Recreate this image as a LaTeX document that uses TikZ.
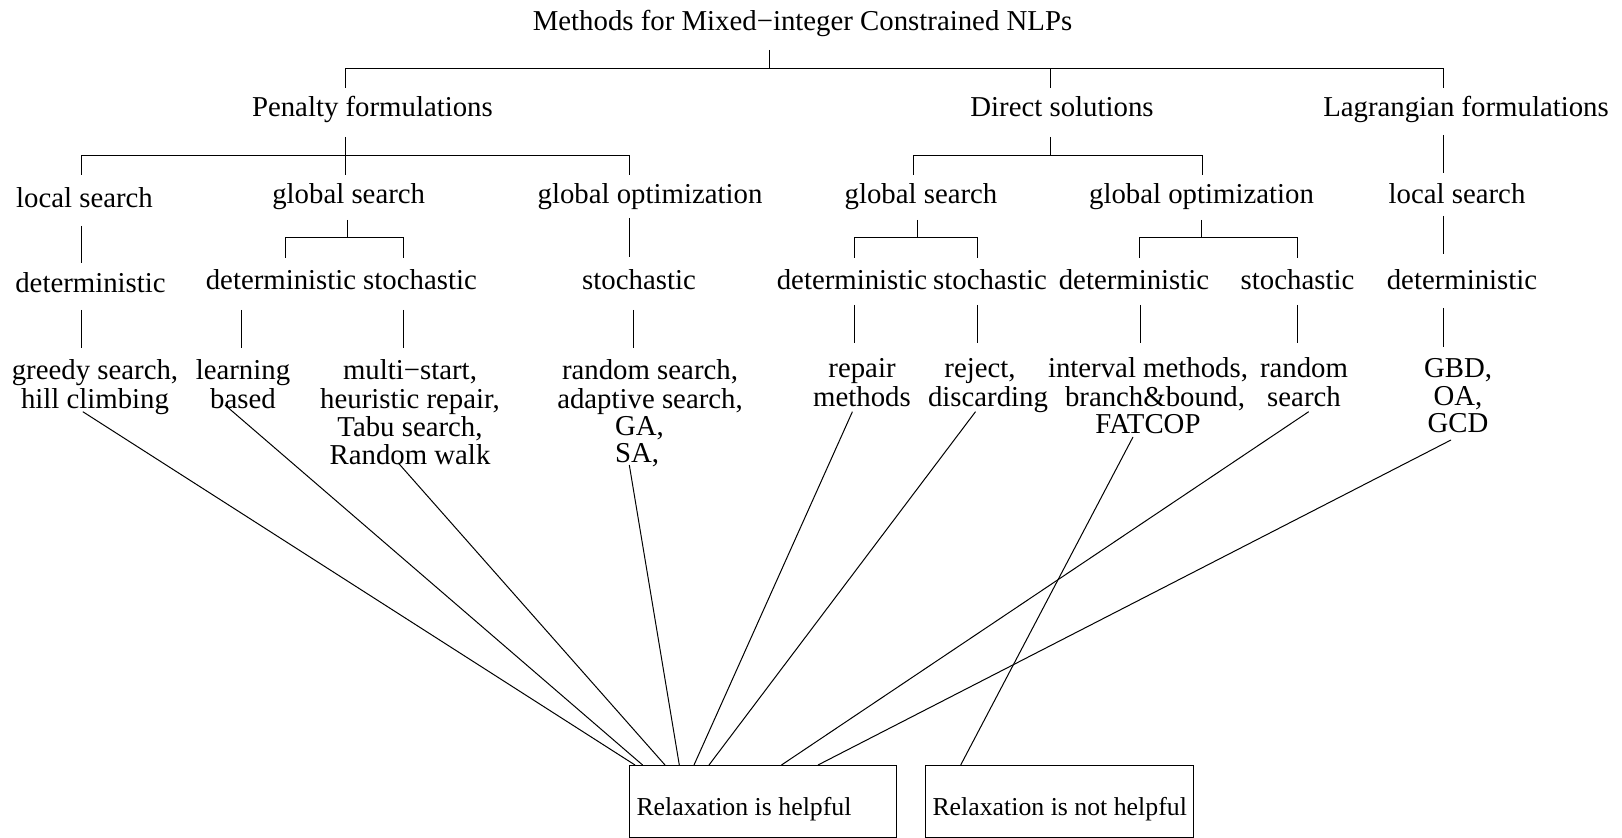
\documentclass[tikz,border=0pt]{standalone}
\usepackage{fontspec}
\setmainfont{Liberation Serif}
\usetikzlibrary{calc}

% several centred lines whose reference point is the first baseline
\newcommand\leafstack[1]{\begin{tabular}[t]{@{}c@{}}#1\end{tabular}}

\begin{document}
\begin{tikzpicture}[
  x=0.5pt, y=-0.5pt,
  lbl/.style={font=\fontsize{14.4}{13.7}\selectfont, inner sep=0pt, anchor=base},
  conn/.style={line width=0.5pt, line cap=butt},
  relbox/.style={draw, line width=0.5pt, anchor=north west,
    font=\fontsize{12.9}{13}\selectfont, inner xsep=3.5pt, inner ysep=0pt,
    text height=16pt, text depth=2pt, minimum height=35.75pt}
]
\useasboundingbox (0,0) rectangle (1622,838);

% ---- level 0 and 1
\node[lbl] (root) at (802.5,31) {Methods for Mixed−integer Constrained NLPs};
\node[lbl] (pen)  at (372.4,117) {Penalty formulations};
\node[lbl] (dir)  at (1062,117)  {Direct solutions};
\node[lbl] (lag)  at (1466,117)  {Lagrangian formulations};

% ---- level 2
\node[lbl] (pls) at (84.5,208)   {local search};
\node[lbl] (pgs) at (348.7,204)  {global search};
\node[lbl] (pgo) at (650,204)    {global optimization};
\node[lbl] (dgs) at (921,204)    {global search};
\node[lbl] (dgo) at (1201.5,204) {global optimization};
\node[lbl] (lls) at (1457,204)   {local search};

% ---- level 3
\node[lbl] (plsd) at (90.5,293)  {deterministic};
\node[lbl] (pgsd) at (281,290)   {deterministic};
\node[lbl] (pgss) at (420,290)   {stochastic};
\node[lbl] (pgos) at (639,290)   {stochastic};
\node[lbl] (dgsd) at (852,290)   {deterministic};
\node[lbl] (dgss) at (990,290)   {stochastic};
\node[lbl] (dgod) at (1134,290)  {deterministic};
\node[lbl] (dgos) at (1297.5,290){stochastic};
\node[lbl] (llsd) at (1462,290)  {deterministic};

% ---- level 4: methods
\node[lbl] (m1) at (95,380)   {\leafstack{greedy search,\\hill climbing}};
\node[lbl] (m2) at (243,380)  {\leafstack{learning\\based}};
\node[lbl] (m3) at (410,380)  {\leafstack{multi−start,\\heuristic repair,\\Tabu search,\\Random walk}};
\node[lbl] (m4) at (650,380)  {\leafstack{random search,\\adaptive search,\\\makebox[35pt][l]{GA,}\\\makebox[35pt][l]{SA,}}};
\node[lbl] (m5) at (862,378)  {\leafstack{repair\\methods}};
\node[lbl] (m6) at (988,378)  {\leafstack{reject,\kern8pt\\discarding}};
\node[lbl] (m7) at (1148,378) {\leafstack{interval methods,\\\kern7pt branch\&bound,\\FATCOP}};
\node[lbl] (m8) at (1304,378) {\leafstack{random\\search}};
\node[lbl] (m9) at (1458,378) {\leafstack{GBD,\\OA,\\GCD}};

% ---- classification boxes
\node[relbox] (help)   at (629,765) {\makebox[126.5pt][l]{Relaxation is helpful}};
\node[relbox] (nohelp) at (925,765) {\makebox[127pt][l]{Relaxation is not helpful}};

% ---- tree brackets
\draw[conn] (769,50) -- (769,69);
\draw[conn] (345.6,88) -- (345.6,69) -- (1443,69) -- (1443,88);
\draw[conn] (1050.5,69) -- (1050.5,88);

\draw[conn] (345.6,137) -- (345.6,175);
\draw[conn] (81,175) -- (81,155.7) -- (629,155.7) -- (629,175);

\draw[conn] (1050.5,137) -- (1050.5,155.7);
\draw[conn] (913.4,175) -- (913.4,155.7) -- (1202.6,155.7) -- (1202.6,175);

\draw[conn] (1443,135) -- (1443,173);

\draw[conn] (81,226) -- (81,263);
\draw[conn] (347,220) -- (347,238);
\draw[conn] (285,258) -- (285,238) -- (403.5,238) -- (403.5,258);
\draw[conn] (629,218) -- (629,257);

\draw[conn] (917,220) -- (917,238);
\draw[conn] (854.5,258) -- (854.5,238) -- (977.6,238) -- (977.6,258);
\draw[conn] (1201.6,220) -- (1201.6,238);
\draw[conn] (1139,258) -- (1139,238) -- (1297,238) -- (1297,258);
\draw[conn] (1443,216) -- (1443,254);

\foreach \x in {81,241.6,403.5,633.7} \draw[conn] (\x,310) -- (\x,348);
\foreach \x in {854.5,977.6,1140.5,1297.3} \draw[conn] (\x,305) -- (\x,343);
\draw[conn] (1443,308) -- (1443,347);

% ---- methods to boxes
\draw[conn] ($(m1.base)+(-12.2,31.7)$) -- ($(help.north west)+(6,0)$);
\draw[conn] ($(m2.base)+(-18,25)$)     -- ($(help.north west)+(13.6,0)$);
\draw[conn] ($(m3.base)+(-11.7,83)$)   -- ($(help.north west)+(36,0)$);
\draw[conn] ($(m4.base)+(-20.7,85)$)   -- ($(help.north west)+(50.3,0)$);
\draw[conn] ($(m5.base)+(-9.6,33.7)$)  -- ($(help.north west)+(65,0)$);
\draw[conn] ($(m6.base)+(-12.5,33.7)$) -- ($(help.north west)+(80,0)$);
\draw[conn] ($(m8.base)+(4.7,33.7)$)   -- ($(help.north west)+(152.5,0)$);
\draw[conn] ($(m9.base)+(-7,62)$)      -- ($(help.north west)+(189,0)$);
\draw[conn] ($(m7.base)+(-15,59)$)     -- ($(nohelp.north west)+(35.7,0)$);
\end{tikzpicture}
\end{document}
